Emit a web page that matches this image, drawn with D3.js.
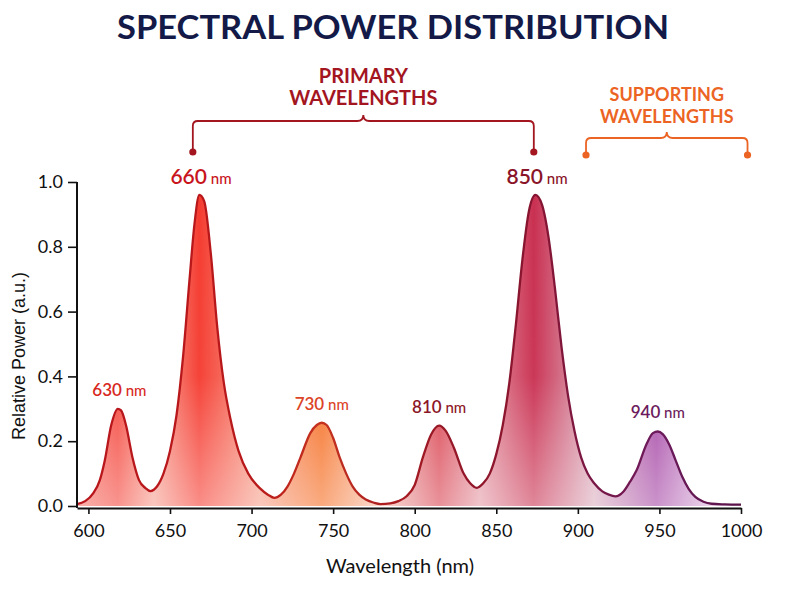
<!DOCTYPE html>
<html>
<head>
<meta charset="utf-8">
<script src="https://cdn.jsdelivr.net/npm/d3@7/dist/d3.min.js"></script>
<style>
    body { margin: 0; background: #fff; }
    svg { display: block; }
</style>
</head>
<body>
<div id="chart"></div>
<script>
// spectrum (nm, relative power)
var wavelengths = [593, 598, 603, 607, 610, 614, 618, 620, 623, 627, 631, 635, 638, 642, 646, 650, 654, 658, 662, 665,
    668, 671, 675, 679, 683, 687, 692, 698, 705, 710, 714, 718, 722, 726, 730, 736, 740, 743, 746, 750,
    754, 758, 762, 766, 770, 775, 779, 785, 790, 795, 800, 805, 810, 815, 819, 824, 830, 834, 838, 842,
    846, 850, 854, 858, 862, 866, 870, 874, 878, 882, 886, 890, 894, 898, 902, 906, 910, 915, 919, 923,
    928, 932, 936, 942, 946, 949, 952, 956, 960, 964, 968, 972, 977, 982, 990, 1000];
var power = [0.006, 0.015, 0.04, 0.08, 0.14, 0.25, 0.30, 0.295, 0.25, 0.15, 0.08, 0.055, 0.046, 0.06, 0.10, 0.17, 0.28, 0.46, 0.70, 0.87,
    0.96, 0.94, 0.78, 0.55, 0.38, 0.27, 0.17, 0.10, 0.055, 0.035, 0.025, 0.035, 0.06, 0.10, 0.15, 0.225, 0.25, 0.257, 0.25, 0.21,
    0.15, 0.10, 0.06, 0.035, 0.02, 0.01, 0.006, 0.008, 0.015, 0.03, 0.065, 0.15, 0.22, 0.248, 0.232, 0.18, 0.10, 0.07, 0.056, 0.07,
    0.10, 0.16, 0.25, 0.38, 0.56, 0.76, 0.91, 0.96, 0.93, 0.83, 0.67, 0.49, 0.34, 0.23, 0.15, 0.10, 0.07, 0.045, 0.035, 0.03,
    0.045, 0.075, 0.11, 0.19, 0.225, 0.23, 0.222, 0.19, 0.14, 0.09, 0.052, 0.028, 0.013, 0.007, 0.005, 0.004];

// peak annotations
var peakNames  = ['630', '660', '730', '810', '850', '940'];
var peakWl     = [619, 669, 743, 815, 875, 949];
var peakPower  = [0.30, 0.96, 0.257, 0.248, 0.96, 0.23];
var peakMajor  = [false, true, false, false, true, false];

var xTicks = [600, 650, 700, 750, 800, 850, 900, 950, 1000];
var yTicks = [0, 0.2, 0.4, 0.6, 0.8, 1.0];

var primaryRange    = [664, 873];
var supportingRange = [905, 1004];

var peakColors = ['#d8281e', '#c8141c', '#dc4426', '#8c1626', '#8a1428', '#6c1c5c'];
var fillStops = [
    [593, '#f47a70'], [618, '#f4463c'], [640, '#f6a092'], [668, '#f53b30'], [705, '#f7a08c'],
    [743, '#f56c20'], [778, '#f8c0aa'], [800, '#e27a80'], [815, '#d9414f'], [840, '#e49aa6'],
    [873, '#c92f50'], [910, '#dcb0c0'], [948, '#a444a4'], [980, '#dcb4dc'], [1000, '#e4c6e4']
];
var lineStops = [
    [593, '#b8161c'], [700, '#b8181a'], [743, '#c4321e'], [790, '#a81a22'], [815, '#981826'],
    [873, '#861430'], [948, '#6c1a5c'], [1000, '#5a1448']
];

var width = 800, height = 600;
var x = d3.scaleLinear().domain([593, 1000]).range([77, 741]);
var y = d3.scaleLinear().domain([0, 1]).range([506, 182]);
var axisY = 508;

var svg = d3.select('#chart').append('svg')
    .attr('width', width)
    .attr('height', height)
    .style('font-family', 'Lato, "Open Sans", sans-serif')
;

var defs = svg.append('defs');

function hGradient(id, stops) {
    var g = defs.append('linearGradient')
        .attr('id', id)
        .attr('gradientUnits', 'userSpaceOnUse')
        .attr('x1', x(593)).attr('x2', x(1000))
        .attr('y1', 0).attr('y2', 0)
    ;
    stops.forEach(s => {
        g.append('stop')
            .attr('offset', (x(s[0]) - x(593)) / (x(1000) - x(593)))
            .attr('stop-color', s[1]);
    });
}
hGradient('specFill', fillStops);
hGradient('specLine', lineStops);

var fade = defs.append('linearGradient')
    .attr('id', 'fade')
    .attr('gradientUnits', 'userSpaceOnUse')
    .attr('x1', 0).attr('x2', 0)
    .attr('y1', y(1)).attr('y2', y(0))
;
fade.append('stop').attr('offset', 0).attr('stop-color', '#fff').attr('stop-opacity', 0);
fade.append('stop').attr('offset', 0.6).attr('stop-color', '#fff').attr('stop-opacity', 0.04);
fade.append('stop').attr('offset', 1).attr('stop-color', '#fff').attr('stop-opacity', 0.42);

// title
svg.append('text')
    .attr('x', 393)
    .attr('y', 39)
    .attr('text-anchor', 'middle')
    .attr('font-size', 33)
    .attr('font-weight', 700)
    .attr('fill', '#141a48')
    .attr('textLength', 552)
    .attr('lengthAdjust', 'spacingAndGlyphs')
    .text('SPECTRAL POWER DISTRIBUTION')
;

var data = wavelengths.map((w, i) => ({ wl: w, p: power[i] }));

var area = d3.area()
    .x(d => x(d.wl))
    .y0(y(0))
    .y1(d => y(d.p))
    .curve(d3.curveMonotoneX)
;
var line = d3.line()
    .x(d => x(d.wl))
    .y(d => y(d.p))
    .curve(d3.curveMonotoneX)
;

svg.append('path').datum(data).attr('d', area).attr('fill', 'url(#specFill)');
svg.append('path').datum(data).attr('d', area).attr('fill', 'url(#fade)');
svg.append('path').datum(data)
    .attr('d', line)
    .attr('fill', 'none')
    .attr('stroke', 'url(#specLine)')
    .attr('stroke-width', 2.3)
    .attr('stroke-linejoin', 'round')
;

// axes
var xAxis = svg.append('g')
    .attr('transform', 'translate(0,' + axisY + ')')
    .call(d3.axisBottom(x).tickValues(xTicks).tickFormat(d3.format('d')).tickSize(6).tickSizeOuter(0).tickPadding(10))
;
var yAxis = svg.append('g')
    .attr('transform', 'translate(' + x(593) + ',0)')
    .call(d3.axisLeft(y).tickValues(yTicks).tickFormat(d3.format('.1f')).tickSize(9).tickSizeOuter(0).tickPadding(5))
;
[xAxis, yAxis].forEach(a => {
    a.select('.domain').attr('stroke', '#111').attr('stroke-width', 2);
    a.selectAll('.tick line').attr('stroke', '#111').attr('stroke-width', 1.6);
    a.selectAll('.tick text')
        .attr('fill', '#111')
        .attr('font-size', 18)
        .style('font-family', 'Lato, sans-serif');
});
yAxis.select('.domain').attr('d', 'M0,' + y(1) + 'V' + axisY);

svg.append('text')
    .attr('x', 400)
    .attr('y', 573)
    .attr('text-anchor', 'middle')
    .attr('font-size', 20)
    .attr('fill', '#111')
    .text('Wavelength (nm)')
;
svg.append('text')
    .attr('transform', 'translate(25,356) rotate(-90)')
    .attr('text-anchor', 'middle')
    .attr('font-size', 18)
    .attr('fill', '#111')
    .style('font-family', '"Liberation Sans", Arial, sans-serif')
    .text('Relative Power (a.u.)')
;

// peak labels
peakNames.forEach((name, i) => {
    var t = svg.append('text')
        .attr('x', x(peakWl[i]))
        .attr('y', y(peakPower[i]) - (peakMajor[i] ? 11 : 13))
        .attr('text-anchor', 'middle')
        .attr('fill', peakColors[i])
    ;
    t.append('tspan')
        .attr('font-size', peakMajor[i] ? 21 : 17)
        .attr('font-weight', 600)
        .text(name);
    t.append('tspan')
        .attr('font-size', 15)
        .attr('font-weight', 500)
        .text(' nm');
});

// brackets
function bracket(range, lineY, dotY, color, lines, textY, size) {
    var x0 = x(range[0]), x1 = x(range[1]), xm = (x0 + x1) / 2, r = 5;
    var g = svg.append('g');
    g.append('path')
        .attr('d', 'M' + x0 + ',' + dotY + 'V' + (lineY + r) + 'Q' + x0 + ',' + lineY + ' ' + (x0 + r) + ',' + lineY +
            'H' + (xm - 6) + 'Q' + xm + ',' + lineY + ' ' + xm + ',' + (lineY - 6) +
            'Q' + xm + ',' + lineY + ' ' + (xm + 6) + ',' + lineY +
            'H' + (x1 - r) + 'Q' + x1 + ',' + lineY + ' ' + x1 + ',' + (lineY + r) + 'V' + dotY)
        .attr('fill', 'none')
        .attr('stroke', color)
        .attr('stroke-width', 1.8)
    ;
    g.selectAll('circle').data([x0, x1]).enter().append('circle')
        .attr('cx', d => d)
        .attr('cy', dotY)
        .attr('r', 3.6)
        .attr('fill', color)
    ;
    lines.forEach((l, i) => {
        g.append('text')
            .attr('x', xm)
            .attr('y', textY + i * 22)
            .attr('text-anchor', 'middle')
            .attr('font-size', size)
            .attr('font-weight', 700)
            .attr('fill', color)
            .text(l);
    });
}
bracket(primaryRange, 121, 152, '#a3151f', ['PRIMARY', 'WAVELENGTHS'], 83, 20);
bracket(supportingRange, 138, 155, '#ec6424', ['SUPPORTING', 'WAVELENGTHS'], 101, 18);
</script>
</body>
</html>
